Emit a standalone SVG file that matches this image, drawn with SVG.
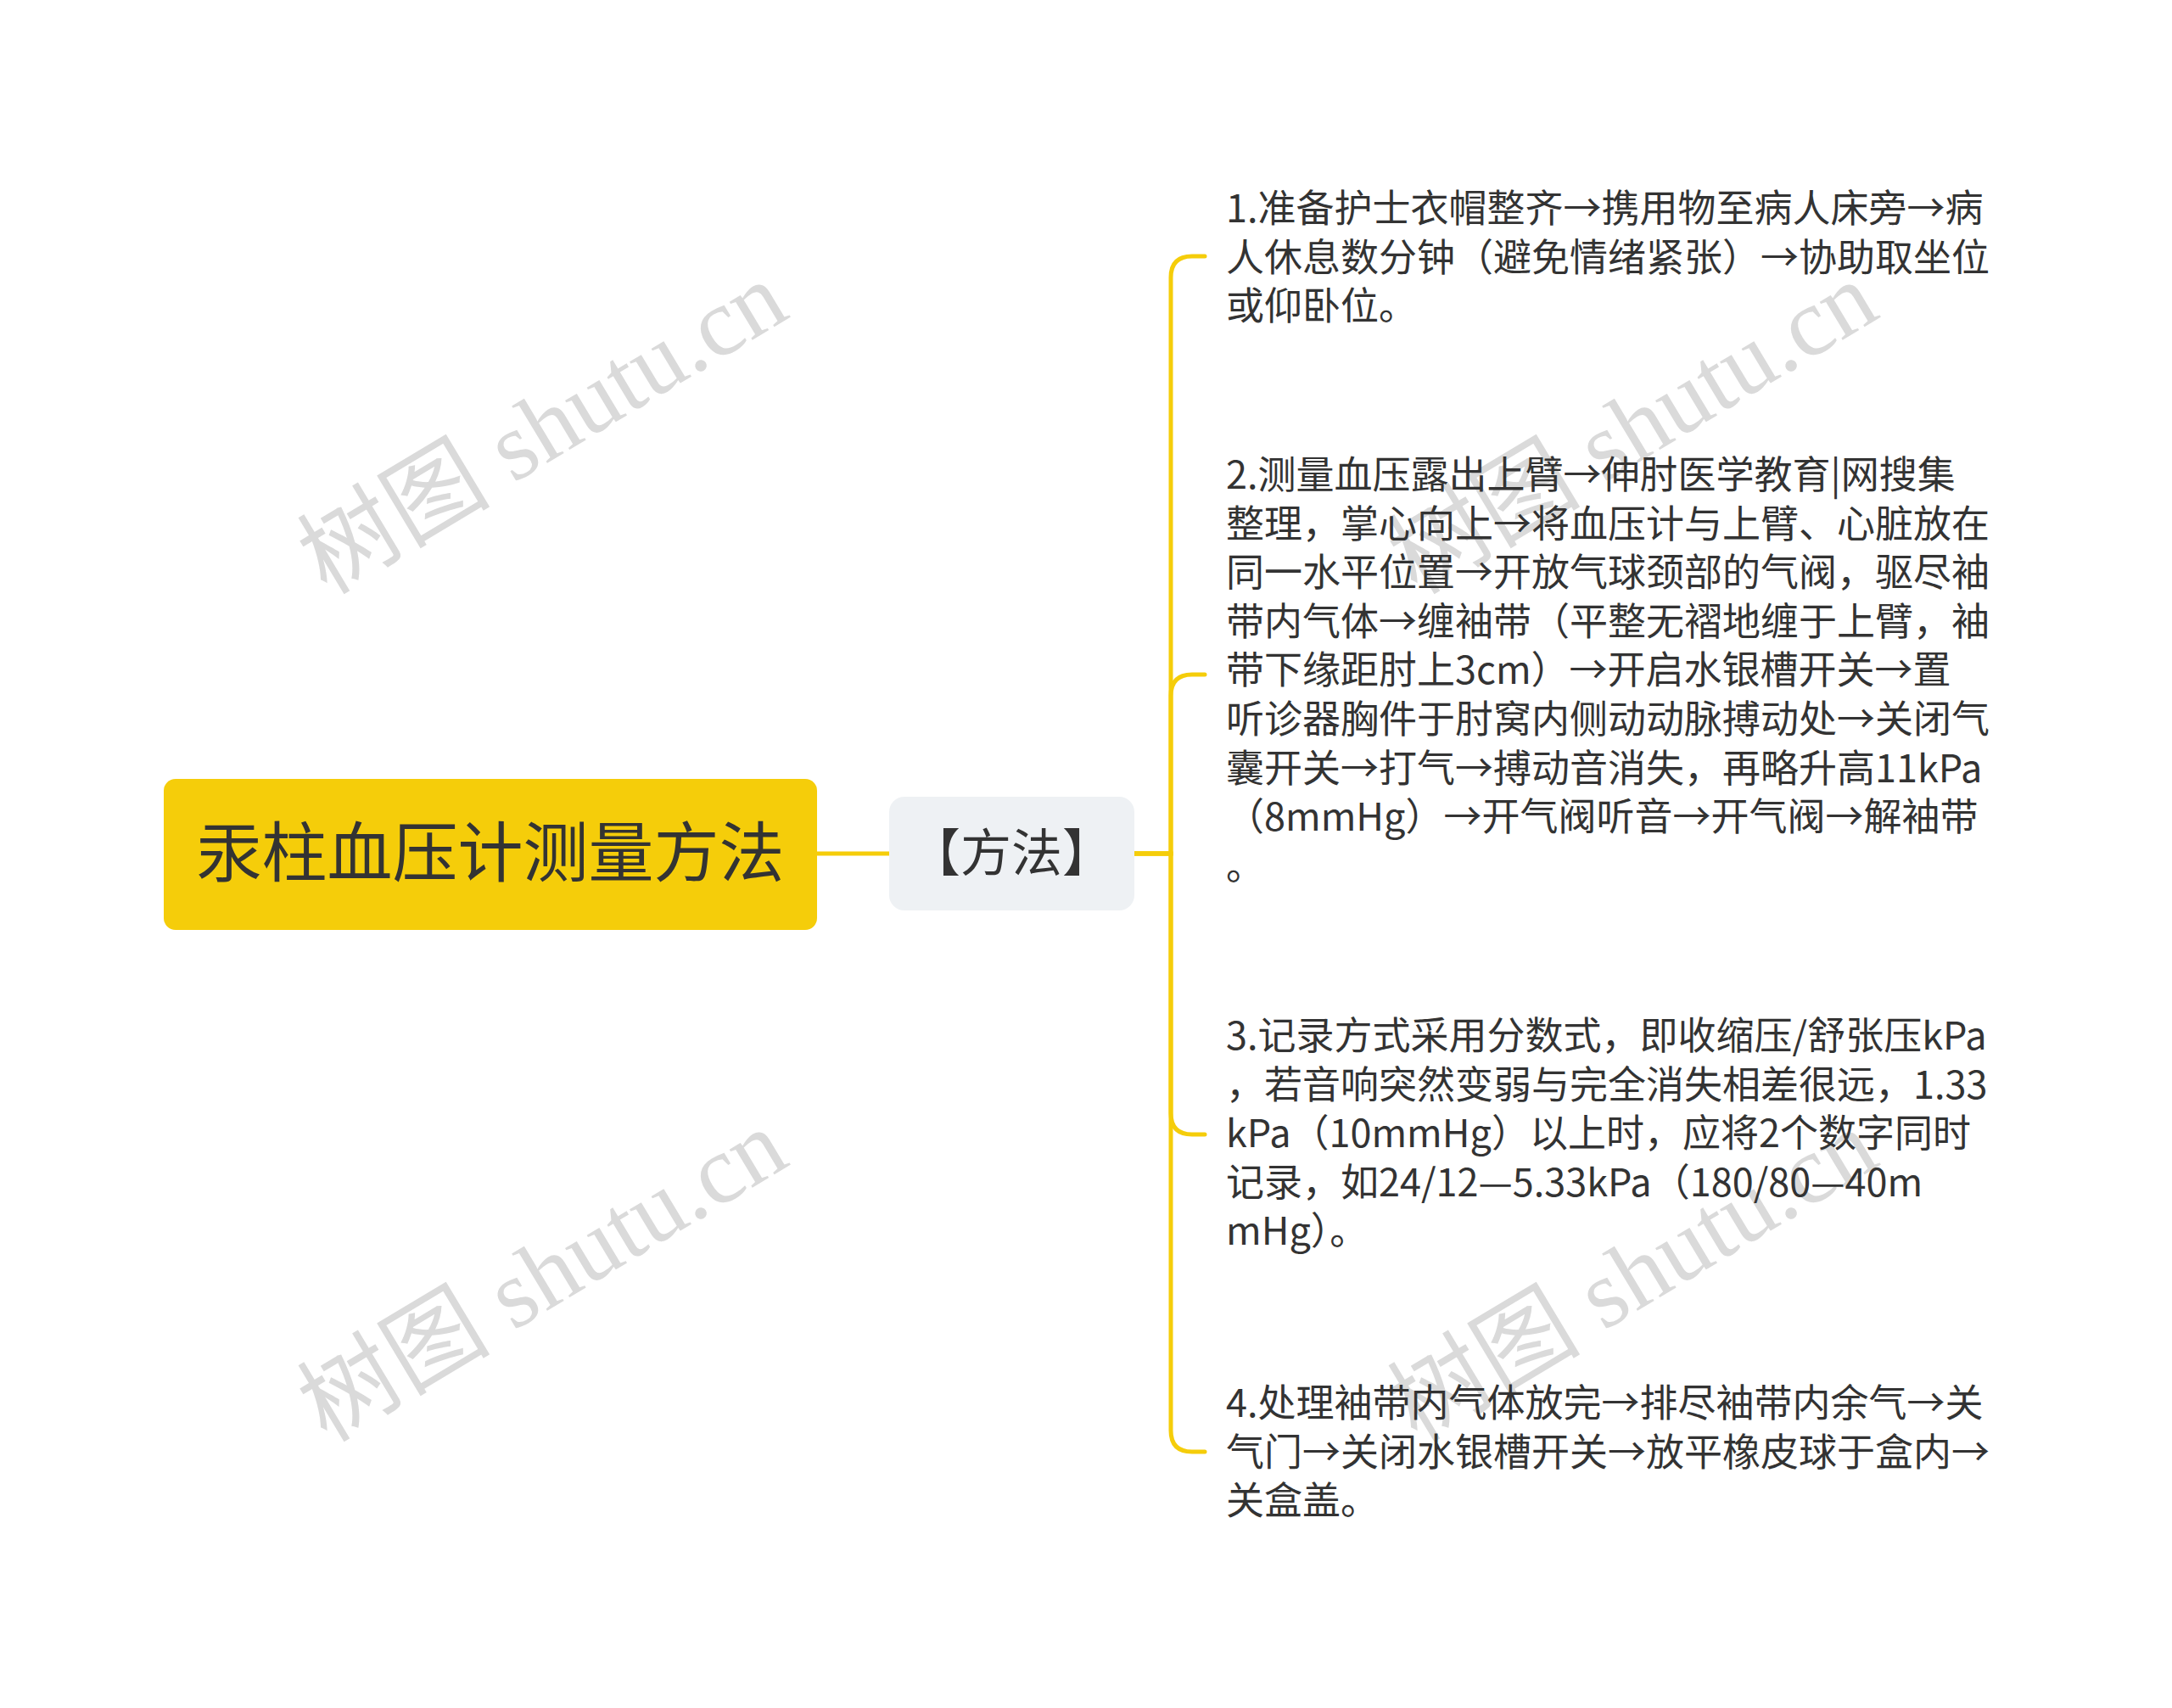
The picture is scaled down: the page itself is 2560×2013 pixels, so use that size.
<svg xmlns="http://www.w3.org/2000/svg" width="2560" height="2013" viewBox="0 0 2560 2013">
<style>
.wm{font-family:"Liberation Serif","Noto Sans CJK SC",serif;font-size:114px;fill:#d6d6d6;opacity:0.9}
.t{font-family:"Noto Sans CJK SC","Noto Sans",sans-serif;font-size:45px;fill:#333333}
.edge{fill:none;stroke:#F5CD0A;stroke-width:5;stroke-linecap:round}
</style>
<rect width="2560" height="2013" fill="#ffffff"/>
<g id="watermarks">
<text class="wm" transform="translate(385,702) rotate(-31)">树图 shutu.cn</text>
<text class="wm" transform="translate(385,1701) rotate(-31)">树图 shutu.cn</text>
<text class="wm" transform="translate(1670,702) rotate(-31)">树图 shutu.cn</text>
<text class="wm" transform="translate(1670,1701) rotate(-31)">树图 shutu.cn</text>
</g>
<g id="connectors">
<path class="edge" d="M963 1006 H1048"/>
<path class="edge" d="M1337 1006 H1380 V327 Q1380 302 1405 302 H1420"/>
<path class="edge" d="M1337 1006 H1380 V820 Q1380 795 1405 795 H1420"/>
<path class="edge" d="M1337 1006 H1380 V1312 Q1380 1337 1405 1337 H1420"/>
<path class="edge" d="M1337 1006 H1380 V1686 Q1380 1711 1405 1711 H1420"/>
</g>
<g id="root">
<rect x="193" y="918" width="770" height="178" rx="14" fill="#F5CD0A"/>
<text x="578" y="1033" text-anchor="middle" font-family="Noto Sans CJK SC, sans-serif" font-size="77" fill="#333333">汞柱血压计测量方法</text>
</g>
<g id="method">
<rect x="1048" y="939" width="289" height="134" rx="18" fill="#EEF1F4"/>
<text x="1192" y="1027" text-anchor="middle" font-family="Noto Sans CJK SC, sans-serif" font-size="60" fill="#333333">【方法】</text>
</g>
<g id="node1">
<text class="t" x="1445" y="262">1.准备护士衣帽整齐→携用物至病人床旁→病</text>
<text class="t" x="1445" y="320">人休息数分钟（避免情绪紧张）→协助取坐位</text>
<text class="t" x="1445" y="377">或仰卧位。</text>
</g>
<g id="node2">
<text class="t" x="1445" y="576">2.测量血压露出上臂→伸肘医学教育|网搜集</text>
<text class="t" x="1445" y="634">整理，掌心向上→将血压计与上臂、心脏放在</text>
<text class="t" x="1445" y="691">同一水平位置→开放气球颈部的气阀，驱尽袖</text>
<text class="t" x="1445" y="749">带内气体→缠袖带（平整无褶地缠于上臂，袖</text>
<text class="t" x="1445" y="806">带下缘距肘上3cm）→开启水银槽开关→置</text>
<text class="t" x="1445" y="864">听诊器胸件于肘窝内侧动动脉搏动处→关闭气</text>
<text class="t" x="1445" y="922">囊开关→打气→搏动音消失，再略升高11kPa</text>
<text class="t" x="1445" y="979">（8mmHg）→开气阀听音→开气阀→解袖带</text>
<text class="t" x="1445" y="1037">。</text>
</g>
<g id="node3">
<text class="t" x="1445" y="1237">3.记录方式采用分数式，即收缩压/舒张压kPa</text>
<text class="t" x="1445" y="1295">，若音响突然变弱与完全消失相差很远，1.33</text>
<text class="t" x="1445" y="1352">kPa（10mmHg）以上时，应将2个数字同时</text>
<text class="t" x="1445" y="1410">记录，如24/12—5.33kPa（180/80—40m</text>
<text class="t" x="1445" y="1467">mHg）。</text>
</g>
<g id="node4">
<text class="t" x="1445" y="1670">4.处理袖带内气体放完→排尽袖带内余气→关</text>
<text class="t" x="1445" y="1728">气门→关闭水银槽开关→放平橡皮球于盒内→</text>
<text class="t" x="1445" y="1785">关盒盖。</text>
</g>
</svg>
